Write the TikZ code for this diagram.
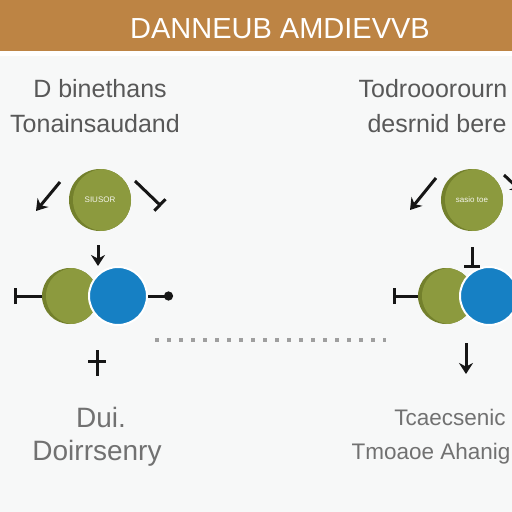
\documentclass[tikz,border=0pt]{standalone}
\usepackage{fontspec}
\setmainfont{Liberation Sans}
\definecolor{hdrbrown}{RGB}{189, 132, 68}
\definecolor{olivegreen}{RGB}{140, 154, 62}
\definecolor{olivedark}{RGB}{115, 128, 44}
\definecolor{dotblue}{RGB}{22, 128, 196}
\definecolor{txtgray}{RGB}{88, 88, 88}
\definecolor{bggray}{RGB}{247, 248, 248}
\definecolor{arrowblack}{RGB}{22, 22, 22}
\usetikzlibrary{arrows.meta, positioning, decorations.markings}

\begin{document}
\begin{tikzpicture}[
    x=1pt, y=-1pt,
    ball/.style={circle, inner sep=0pt, minimum size=#1, font=\fontsize{8}{9}\selectfont, text=white!90!olivegreen},
    greenball/.style={ball=#1, fill=olivedark, path picture={\fill[olivegreen] ([xshift=4pt]path picture bounding box.center) circle (#1/2);}},
    blueball/.style={ball=#1, fill=dotblue, draw=white, line width=2pt},
    arrow/.style={-{Stealth[length=11pt, width=14pt]}, line width=3pt, arrowblack},
    bararrow/.style={-{Bar[width=16pt]}, line width=3pt, arrowblack},
    dotarrow/.style={-{Circle[length=9pt]}, line width=3pt, arrowblack},
    crossed/.style={line width=3pt, arrowblack, postaction={decorate},
      decoration={markings, mark=at position 0.45 with {\draw[line width=3pt] (0,-9pt) -- (0,9pt);}}},
    dotline/.style={line width=3.5pt, gray!75, dash pattern=on 4pt off 8pt},
    title/.style={font=\fontsize{29}{30}\selectfont, text=white},
    caption/.style={font=\fontsize{25}{30}\selectfont, text=txtgray, anchor=base},
    bigcaption/.style={caption, font=\fontsize{28}{30}\selectfont, text=txtgray!85},
    smallcaption/.style={caption, font=\fontsize{22.5}{30}\selectfont, text=txtgray!85},
  ]

  % Page and header band
  \fill[bggray] (0,0) rectangle (512,512);
  \useasboundingbox (0,0) rectangle (512,512);
  \fill[hdrbrown] (0,0) rectangle (512,51);
  \fill[white] (0,51) rectangle (512,56);
  \node[title] (title) at (280,29) {DANNEUB AMDIEVVB};

  % Top captions
  \node[caption] (ltxt1) at (100,97) {D binethans};
  \node[caption] (ltxt2) at (95,132) {Tonainsaudand};
  \node[caption] (rtxt1) at (433,97) {Todrooorourn};
  \node[caption] (rtxt2) at (437,132) {desrnid bere};

  % Left group
  \node[greenball=62pt] (ltop) at (100,200) {SIUSOR};
  \node[greenball=56pt] (lgreen) at (70,296) {};
  \node[blueball=58pt] (lblue) at (118,296) {};

  % Right group
  \node[greenball=62pt] (rtop) at (472,200) {sasio toe};
  \node[greenball=56pt] (rgreen) at (446,296) {};
  \node[blueball=58pt] (rblue) at (489,296) {};

  % Free ends of the connectors
  \coordinate (ltopw) at (60,182);
  \coordinate (lsw) at (36,211);
  \coordinate (ltope) at (135,181);
  \coordinate (lse) at (161,206);
  \coordinate (ldown) at (98,245);
  \coordinate (lwest) at (14,296);
  \coordinate (least) at (173,296);
  \coordinate (lfoot) at (97,350);
  \coordinate (lfootend) at (97,376);
  \coordinate (dotl) at (155,340);
  \coordinate (dotr) at (386,340);
  \coordinate (rtopw) at (436,178);
  \coordinate (rsw) at (410,210);
  \coordinate (rtope) at (504,175);
  \coordinate (rse) at (522,192);
  \coordinate (rdown) at (472,247);
  \coordinate (rwest) at (393,296);
  \coordinate (rfoot) at (466,343);
  \coordinate (rfootend) at (466,374);

  % Arrows
  \draw[arrow] (ltopw) -- (lsw);
  \draw[bararrow] (ltope) -- (lse);
  \draw[arrow] (ldown) -- (ldown |- lblue.north);
  \draw[bararrow] (lgreen.west) -- (lwest);
  \draw[dotarrow] (lblue.east) -- (least);
  \draw[crossed] (lfoot) -- (lfootend);
  \draw[dotline] (dotl) -- (dotr);
  \draw[arrow] (rtopw) -- (rsw);
  \draw[arrow] (rtope) -- (rse);
  \draw[bararrow] (rdown) -- (rdown |- rgreen.north);
  \draw[bararrow] (rgreen.west) -- (rwest);
  \draw[arrow] (rfoot) -- (rfootend);

  % Bottom captions
  \node[bigcaption] (lbot1) at (101,427) {Dui.};
  \node[bigcaption] (lbot2) at (97,460) {Doirrsenry};
  \node[smallcaption] (rbot1) at (450,425) {Tcaecsenic};
  \node[smallcaption] (rbot2) at (431,459) {Tmoaoe Ahanig};

\end{tikzpicture}
\end{document}
